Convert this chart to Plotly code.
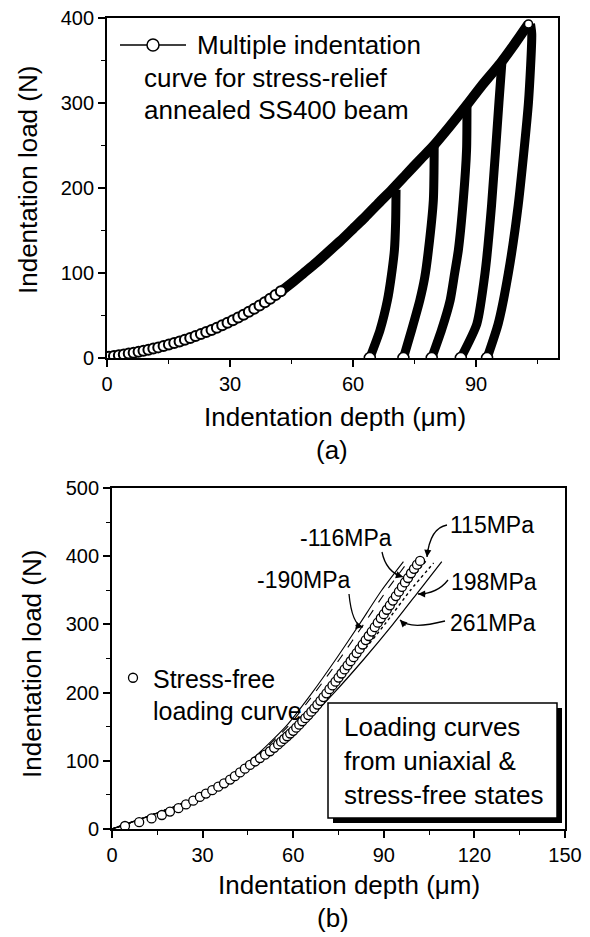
import plotly.graph_objects as go

# ---------------- Panel (a): multiple indentation curve ----------------
# individual open-circle points on the early part of the loading curve
a_mark_depth = [0.5, 1.7, 2.9, 4.1, 5.3, 6.5, 7.7, 8.9, 10.1, 11.3, 12.5, 13.8, 15.1, 16.4,
                17.7, 19.0, 20.3, 21.6, 22.9, 24.2, 25.5, 26.8, 28.1, 29.4, 30.7, 32.0,
                33.3, 34.6, 35.9, 37.2, 38.5, 39.8, 41.1, 42.4]
a_mark_load = [1.5, 2.5, 3.3, 4.2, 5.2, 6.3, 7.4, 8.5, 9.8, 11.1, 12.5, 14.1, 15.8, 17.6,
               19.5, 21.5, 23.6, 25.8, 28.1, 30.5, 33.0, 35.7, 38.5, 41.4, 44.4, 47.6,
               50.9, 54.4, 58.0, 61.8, 65.7, 69.8, 74.0, 78.4]
# dense (merged) part of the loading curve
a_load_depth = [38.5, 42.0, 45.0, 48.0, 51.0, 54.0, 57.0, 60.0, 63.0, 66.0, 69.5, 73.0,
                76.5, 79.5, 83.5, 87.5, 91.5, 96.0, 99.5, 102.8]
a_load_load = [65.7, 77.0, 88.0, 100.0, 112.0, 125.0, 138.0, 152.0, 166.0, 181.0, 198.0,
               216.0, 234.0, 249.0, 272.0, 296.0, 321.0, 347.0, 370.0, 393.0]
# unloading curves (peak -> residual depth)
unl1_depth = [70.5, 70.4, 70.1, 69.3, 68.4, 66.6, 64.1]
unl1_load = [198, 160, 127, 95, 68, 33, 0]
unl2_depth = [79.8, 79.6, 78.4, 77.5, 76.3, 74.3, 72.3]
unl2_load = [249, 186, 127, 95, 68, 33, 0]
unl3_depth = [87.8, 87.7, 86.9, 85.7, 84.8, 83.7, 81.6, 79.2]
unl3_load = [296, 245, 186, 127, 100, 68, 33, 0]
unl4_depth = [96.3, 95.6, 93.8, 92.2, 90.2, 86.3]
unl4_load = [347, 301, 180, 100, 40, 0]
unl5_depth = [103.3, 103.6, 102.8, 100.3, 97.9, 95.4, 92.7]
unl5_load = [393, 381, 301, 180, 100, 40, 0]
residual_depth = [64.1, 72.3, 79.2, 86.3, 92.7]
residual_load = [0, 0, 0, 0, 0]
peak_depth = [102.8]
peak_load = [393]

# ---------------- Panel (b): stress-free vs uniaxial loading curves ----------------
sf_depth = [4.3, 9.0, 13.1, 16.5, 19.2, 22.0, 24.5, 26.9, 29.1, 31.1, 33.2, 35.2, 37.1,
            39.1, 40.7, 42.4, 44.0, 45.7, 47.4, 49.0, 50.7, 52.3, 53.7,
            55, 56, 57, 58, 59, 60, 61, 62, 63, 64, 65, 66, 67, 68, 69, 70, 71, 72, 73,
            74, 75, 76, 77, 78, 79, 80, 81, 82, 83, 84, 85, 86, 87, 88, 89, 90, 91, 92,
            93, 94, 95, 96, 97, 98, 99, 100, 101, 102]
sf_load = [4.4, 10.0, 15.5, 20.5, 25.5, 30.5, 36.0, 41.5, 47.0, 52.0, 57.0, 62.0, 67.0,
           72.5, 77.5, 83.0, 88.5, 94.0, 99.0, 104.0, 109.0, 114.0, 119.0,
           124, 128, 132, 136, 140, 144, 148.5, 153, 158, 162.5, 167, 172, 177, 182.5,
           188, 193.5, 199, 205, 210.5, 216, 222, 228, 234, 240, 246, 252, 258, 264,
           270.5, 277, 283, 289.5, 296, 302.5, 309, 315, 321.5, 328, 335, 341.5, 348,
           355, 361.5, 368, 375, 381.5, 387.5, 393]

m190_depth = [0, 29.8, 45.8, 57.5, 66.3, 74.3, 81.9, 89.3, 96.5]
m190_load = [0, 50, 100, 150, 200, 250, 300, 350, 392]
m116_depth = [0, 29.9, 46.1, 58.2, 67.2, 75.5, 83.3, 91.0, 98.2]
m116_load = [0, 50, 100, 150, 200, 250, 300, 350, 393]
p115_depth = [0, 30.2, 47.1, 60.2, 70.2, 79.3, 88.0, 96.2, 104.5]
p115_load = [0, 50, 100, 150, 200, 250, 300, 350, 396]
p198_depth = [0, 30.3, 47.6, 61.2, 71.6, 81.2, 90.3, 98.8, 106.5]
p198_load = [0, 50, 100, 150, 200, 250, 300, 350, 390]
p261_depth = [0, 30.5, 48.3, 62.6, 73.6, 83.6, 93.0, 101.8, 109.2]
p261_load = [0, 50, 100, 150, 200, 250, 300, 350, 392]

stress_labels = ["-190MPa", "-116MPa", "115MPa", "198MPa", "261MPa"]
a_xticks = [0, 30, 60, 90]
b_xticks = [0, 30, 60, 90, 120, 150]
a_yticks = [0, 100, 200, 300, 400]
b_yticks = [0, 100, 200, 300, 400, 500]

FONT = "Liberation Sans, Arial, Helvetica, sans-serif"
W, H = 590, 937

fig = go.Figure()

# ---- panel (a) traces ----
for d, l in [(unl1_depth, unl1_load), (unl2_depth, unl2_load), (unl3_depth, unl3_load),
             (unl4_depth, unl4_load), (unl5_depth, unl5_load)]:
    fig.add_trace(go.Scatter(x=d, y=l, mode="lines",
                             line=dict(color="black", width=9, shape="spline", smoothing=0.6),
                             showlegend=False, xaxis="x", yaxis="y", hoverinfo="skip"))
fig.add_trace(go.Scatter(x=a_load_depth, y=a_load_load, mode="lines",
                         line=dict(color="black", width=10, shape="spline", smoothing=0.6),
                         showlegend=False, xaxis="x", yaxis="y"))
fig.add_trace(go.Scatter(x=a_mark_depth, y=a_mark_load, mode="markers",
                         marker=dict(symbol="circle", size=10, color="white",
                                     line=dict(color="black", width=2)),
                         showlegend=False, xaxis="x", yaxis="y"))
fig.add_trace(go.Scatter(x=residual_depth, y=residual_load, mode="markers",
                         marker=dict(symbol="circle", size=11, color="white",
                                     line=dict(color="black", width=1.5)),
                         showlegend=False, xaxis="x", yaxis="y"))
fig.add_trace(go.Scatter(x=peak_depth, y=peak_load, mode="markers",
                         marker=dict(symbol="circle", size=8, color="white",
                                     line=dict(color="black", width=1.5)),
                         showlegend=False, xaxis="x", yaxis="y"))

# ---- panel (b) traces ----
styles = [("solid", 1.1), ("dash", 1.1), ("dot", 1.4), ("dot", 1.4), ("solid", 1.2)]
curves = [(m190_depth, m190_load), (m116_depth, m116_load), (p115_depth, p115_load),
          (p198_depth, p198_load), (p261_depth, p261_load)]
for (d, l), (dash, w), name in zip(curves, styles, stress_labels):
    fig.add_trace(go.Scatter(x=d, y=l, mode="lines", name=name,
                             line=dict(color="black", width=w, dash=dash,
                                       shape="spline", smoothing=0.6),
                             showlegend=False, xaxis="x2", yaxis="y2"))
fig.add_trace(go.Scatter(x=sf_depth, y=sf_load, mode="markers",
                         name="Stress-free<br>loading curve",
                         marker=dict(symbol="circle", size=9, color="white",
                                     line=dict(color="black", width=1.3)),
                         showlegend=True, legend="legend2", xaxis="x2", yaxis="y2"))


def px_to_a(px, py):
    return (px - 107) / 4.1, (358 - py) / 0.85


def px_to_b(px, py):
    return (px - 112) / 3.02, (829 - py) / 0.682


shapes = []
annotations = []

# ---- legend of panel (a) drawn by hand ----
lx0, ly = px_to_a(120, 45)
lx1, _ = px_to_a(186, 45)
lcx, _ = px_to_a(153, 45)
shapes.append(dict(type="line", xref="x", yref="y", x0=lx0, x1=lx1, y0=ly, y1=ly,
                   line=dict(color="black", width=1.5), layer="above"))
shapes.append(dict(type="circle", xref="x", yref="y", xsizemode="pixel", ysizemode="pixel",
                   xanchor=lcx, yanchor=ly, x0=-6, x1=6, y0=-6, y1=6,
                   fillcolor="white", line=dict(color="black", width=1.5), layer="above"))
tx, ty = px_to_a(195, 45)
annotations.append(dict(x=tx, y=ty, xref="x", yref="y", text="Multiple indentation",
                        showarrow=False, xanchor="left", yanchor="middle",
                        font=dict(size=26, color="black", family=FONT)))
tx, ty = px_to_a(142, 78)
annotations.append(dict(x=tx, y=ty, xref="x", yref="y", text="curve for stress-relief",
                        showarrow=False, xanchor="left", yanchor="middle",
                        font=dict(size=26, color="black", family=FONT)))
tx, ty = px_to_a(142, 110)
annotations.append(dict(x=tx, y=ty, xref="x", yref="y", text="annealed SS400 beam",
                        showarrow=False, xanchor="left", yanchor="middle",
                        font=dict(size=26, color="black", family=FONT)))

# ---- box in panel (b) ----
bx0, by1 = px_to_b(328, 703)
bx1, by0 = px_to_b(557, 818)
sx0, sy1 = px_to_b(333, 708)
sx1, sy0 = px_to_b(562, 823)
shapes.append(dict(type="rect", xref="x2", yref="y2", x0=sx0, x1=sx1, y0=sy0, y1=sy1,
                   fillcolor="black", line=dict(width=0), layer="above"))
shapes.append(dict(type="rect", xref="x2", yref="y2", x0=bx0, x1=bx1, y0=by0, y1=by1,
                   fillcolor="white", line=dict(color="black", width=1.5), layer="above"))
tx, ty = px_to_b(342, 761)
annotations.append(dict(x=tx, y=ty, xref="x2", yref="y2",
                        text="Loading curves<br>from uniaxial &amp;<br>stress-free states",
                        showarrow=False, xanchor="left", yanchor="middle", align="left",
                        font=dict(size=26, color="black", family=FONT)))

# ---- stress labels with curved arrows ----
label_pos = {
    "-190MPa": (304, 580),
    "-116MPa": (346, 538),
    "115MPa": (492, 525),
    "198MPa": (494, 582),
    "261MPa": (493, 623),
}
arrow_paths = {
    "-190MPa": ((349, 594), (352, 625), (363, 627), -9, -2),
    "-116MPa": ((382, 552), (386, 572), (403, 577), -9, -3),
    "115MPa": ((447, 525), (430, 528), (427, 557), 1, -9),
    "198MPa": ((448, 580), (437, 594), (418, 594), 9, 0),
    "261MPa": ((445, 621), (410, 630), (400, 620), 7, 7),
}
for name in stress_labels:
    cx, cy = px_to_b(*label_pos[name])
    annotations.append(dict(x=cx, y=cy, xref="x2", yref="y2", text=name, showarrow=False,
                            xanchor="center", yanchor="middle",
                            font=dict(size=23, color="black", family=FONT)))
    p0, pc, p1, ax, ay = arrow_paths[name]
    x0, y0 = px_to_b(*p0)
    xc, yc = px_to_b(*pc)
    x1, y1 = px_to_b(*p1)
    shapes.append(dict(type="path", xref="x2", yref="y2",
                       path=f"M {x0},{y0} Q {xc},{yc} {x1},{y1}",
                       line=dict(color="black", width=1.3)))
    annotations.append(dict(x=x1, y=y1, xref="x2", yref="y2", text="", showarrow=True,
                            ax=ax, ay=ay, arrowhead=2, arrowsize=1.1, arrowwidth=1.3,
                            arrowcolor="black"))

# ---- axis titles and panel labels ----
def paper_ann(px, py, text, size, angle=0):
    return dict(x=px / W, y=1 - py / H, xref="paper", yref="paper", text=text,
                showarrow=False, xanchor="center", yanchor="middle", textangle=angle,
                font=dict(size=size, color="black", family=FONT))


annotations += [
    paper_ann(335, 417, "Indentation depth (\u03bcm)", 26),
    paper_ann(332, 450, "(a)", 26),
    paper_ann(28, 180, "Indentation load (N)", 26, -90),
    paper_ann(349, 885, "Indentation depth (\u03bcm)", 26),
    paper_ann(333, 918, "(b)", 26),
    paper_ann(32, 664, "Indentation load (N)", 26, -90),
]

axis_common = dict(showgrid=False, zeroline=False, showline=True, linecolor="black",
                   linewidth=1.8, mirror=True, ticks="outside", ticklen=7, tickwidth=1.5,
                   tickcolor="black", automargin=False,
                   tickfont=dict(size=20, color="black", family=FONT))

fig.update_layout(
    width=W, height=H,
    margin=dict(l=0, r=0, t=0, b=0, autoexpand=False),
    paper_bgcolor="white", plot_bgcolor="white",
    showlegend=True,
    xaxis=dict(domain=[107 / W, 558 / W], range=[0, 110], anchor="y",
               tickmode="array", tickvals=a_xticks,
               minor=dict(ticks="outside", ticklen=4, tickwidth=1.2, tickcolor="black",
                          tick0=0, dtick=15), **axis_common),
    yaxis=dict(domain=[1 - 358 / H, 1 - 18 / H], range=[0, 400], anchor="x",
               tickmode="array", tickvals=a_yticks,
               minor=dict(ticks="outside", ticklen=4, tickwidth=1.2, tickcolor="black",
                          tick0=0, dtick=50), **axis_common),
    xaxis2=dict(domain=[112 / W, 565 / W], range=[0, 150], anchor="y2",
                tickmode="array", tickvals=b_xticks,
                minor=dict(ticks="outside", ticklen=4, tickwidth=1.2, tickcolor="black",
                           tick0=0, dtick=15), **axis_common),
    yaxis2=dict(domain=[1 - 829 / H, 1 - 488 / H], range=[0, 500], anchor="x2",
                tickmode="array", tickvals=b_yticks,
                minor=dict(ticks="outside", ticklen=4, tickwidth=1.2, tickcolor="black",
                           tick0=0, dtick=50), **axis_common),
    legend2=dict(x=(152 - 39) / W, y=1 - 655 / H, xanchor="left", yanchor="top",
                 bgcolor="rgba(0,0,0,0)", borderwidth=0, valign="top",
                 font=dict(size=25, color="black", family=FONT), itemwidth=30),
    shapes=shapes,
    annotations=annotations,
)

fig.write_html("out.html")
